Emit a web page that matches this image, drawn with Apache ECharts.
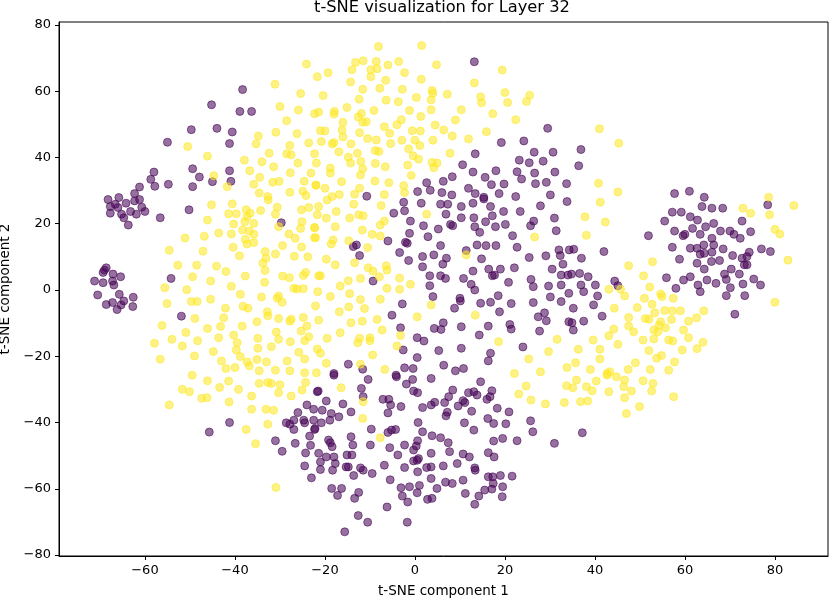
<!DOCTYPE html>
<html>
<head>
<meta charset="utf-8">
<script src="https://cdn.jsdelivr.net/npm/echarts@6/dist/echarts.min.js"></script>
<style>
html,body{margin:0;padding:0;background:#fff;}
#chart{width:830px;height:600px;}
</style>
</head>
<body>
<div id="chart"></div>
<script>
const chartTitle = 't-SNE visualization for Layer 32';
const xAxisName = 't-SNE component 1';
const yAxisName = 't-SNE component 2';
const xTicks = [-60, -40, -20, 0, 20, 40, 60, 80];
const yTicks = [-80, -60, -40, -20, 0, 20, 40, 60, 80];

// label 0 (purple)
const class0 = [
[-38.3,60.5],[-45.2,55.9],[-38.9,53.9],[-36.3,53.9],[-49.7,48.4],[-44.0,48.8],[-40.6,47.7],[-55.0,44.6],[-41.2,44.2],[-49.4,36.6],[-58.0,35.6],[-47.9,34.1],[-41.2,36.0],[-58.7,33.4],[-45.0,32.7],[-40.9,32.8],[-57.8,31.3],[-54.8,31.9],[-61.2,31.1],[-49.4,31.2],[-62.3,29.1],
[13.2,68.9],[29.5,48.8],[19.2,44.5],[24.2,45.0],[13.4,41.1],[26.5,41.6],[30.7,41.6],[23.2,39.2],[25.4,38.4],[28.5,38.9],[10.6,37.8],[12.9,35.6],[15.6,34.0],[18.0,36.0],[22.7,35.7],[23.7,33.5],[26.6,35.3],[31.1,35.6],[6.3,32.8],[8.3,34.2],[2.6,32.4],[3.4,30.1],[0.6,29.7],[6.0,29.4],[8.2,28.7],[11.9,30.7],[13.4,29.1],[17.0,31.8],[19.8,32.0],[18.7,29.1],[26.8,32.1],[29.2,32.5],[33.7,32.1],[22.4,28.2],[30.1,28.7],[-10.7,28.3],[15.3,28.0],
[36.9,42.4],[36.4,37.5],[57.7,29.1],[61.0,29.8],[64.3,28.0],
[-68.2,27.3],[-65.8,27.9],[-64.2,26.2],[-62.3,26.9],[-61.2,27.3],[-67.7,25.2],[-66.0,24.9],[-63.2,23.7],[-60.7,25.0],[-60.0,23.7],[-67.7,23.2],[-65.2,22.9],[-64.7,21.8],[-63.7,19.6],[-61.9,22.9],[-66.6,25.9],
[-50.2,24.2],[-56.6,21.8],[-29.7,20.3],[-54.2,3.5],[-51.9,-7.9],
[-68.6,6.7],[-69.3,5.3],[-67.1,4.8],[-65.4,4.0],[-71.2,2.7],[-69.3,2.2],[-67.2,2.7],[-66.9,1.5],[-70.5,-1.5],[-65.7,-1.3],[-62.6,-2.2],[-64.7,-3.3],[-68.6,-4.4],[-67.2,-3.8],[-66.2,-5.9],[-62.7,-5.0],[-65.3,-4.5],[-69.0,6.0],
[-41.2,-40.0],[-45.7,-42.9],[-21.7,-30.7],[-24.0,-34.7],[-22.5,-36.0],[-26.0,-37.0],[-26.9,-39.3],[-24.7,-39.3],[-24.5,-40.1],[-28.6,-40.1],[-27.8,-40.5],[-26.9,-42.1],[-22.3,-42.1],[-23.4,-44.1],[-31.0,-45.5],[-26.6,-46.3],[-23.2,-46.9],[-29.5,-48.7],[-24.3,-49.2],[-21.4,-49.3],[-21.0,-51.9],[-24.5,-53.1],[-21.0,-54.2],[-23.0,-56.7],
[-2.5,26.5],[1.4,26.2],[-2.3,23.9],[-4.7,23.2],[-1.0,20.8],[5.7,25.9],[7.3,25.9],[6.9,22.9],[10.3,25.2],[10.3,21.8],[12.9,26.2],[15.3,27.5],[16.8,25.2],[13.1,21.8],[15.7,20.6],[17.2,22.4],[27.9,25.4],[19.7,23.7],[23.4,23.7],[26.4,20.8],[31.0,21.7],[25.7,19.4],[31.4,17.9],[17.9,19.1],[20.1,19.8],[13.3,19.1],[14.4,17.4],[7.9,19.8],[8.4,19.4],[5.2,18.4],[1.9,19.4],[-1.2,17.1],[-1.7,14.1],[-2.1,14.4],[2.9,16.1],[-6.0,14.8],[-3.4,11.3],[-1.4,8.9],[-13.0,13.6],[-13.7,13.1],[-12.3,10.4],[5.7,13.4],[4.2,10.6],[1.7,10.1],[1.7,7.0],[7.0,9.6],[6.2,7.8],[6.8,3.5],[5.7,4.3],[11.4,11.9],[13.8,13.6],[15.8,13.4],[18.0,13.4],[22.7,12.9],[21.7,16.4],[14.8,9.4],[16.4,6.3],[17.2,4.3],[17.7,4.5],[19.0,6.3],[12.9,5.7],[10.8,3.5],[12.5,1.7],[13.3,0.0],[3.3,4.3],[3.3,1.3],[4.0,-2.0],[-9.3,2.7],[10.0,-2.5],[10.1,-3.3],[8.8,-5.5],[14.6,-4.0],[16.8,-3.7],[18.5,-1.7],[18.8,-6.6],[20.8,2.3],[22.1,6.7],[21.4,-4.1],[25.4,9.8],[29.1,10.3],[32.0,12.1],[32.3,10.4],[34.3,12.1],[30.5,6.3],[32.5,4.5],[34.0,4.5],[32.5,1.5],[25.8,3.2],[26.3,1.0],[29.7,1.2],[30.1,-2.1],[26.3,-3.8],[32.5,-3.5],[34.2,-1.0],[28.8,-6.9],[27.4,-8.1],[29.2,-9.3],[34.2,-9.6],[21.1,-10.4],[21.4,-11.8],[16.3,-10.9],[27.7,-12.4],[14.3,-13.6],[10.3,-11.1],[6.3,-9.9],[5.8,-11.9],[4.3,-11.6],[-3.2,-11.4],[-2.6,-18.1],[-5.1,-7.6],[-2.8,-4.2],[0.5,-14.4],[2.0,-15.4],[5.3,-18.3],[10.3,-17.6],[16.8,-19.1],[16.3,-21.4],[24.0,-17.2],[0.5,-20.4],[6.4,-22.7],[-2.3,-23.5],[-0.4,-23.7],[-4.2,-25.7],[9.0,-24.4],[10.8,-23.7],[-14.8,-22.4],[-11.6,-23.9],[-18.0,-25.2],
[33.8,26.7],[57.2,23.5],[59.2,23.5],[61.2,22.1],[62.8,21.1],[64.6,19.1],[55.5,20.8],[57.7,17.8],[59.6,16.4],[60.0,16.8],[61.7,18.6],[63.4,16.8],[66.4,20.1],[67.9,17.8],[70.0,17.8],[70.9,16.8],[72.7,20.8],[72.3,15.6],[74.6,17.6],[63.8,25.2],[66.0,24.7],[68.4,24.7],[78.4,25.7],[51.9,16.4],[57.2,12.9],[61.2,12.6],[62.7,12.6],[64.2,13.6],[66.0,15.6],[66.4,13.6],[68.5,12.4],[63.4,10.8],[64.3,11.1],[66.0,11.4],[67.7,8.9],[70.6,10.4],[72.7,9.6],[73.8,10.1],[74.3,11.4],[73.2,7.6],[73.8,7.6],[77.0,12.4],[79.0,11.6],[58.8,9.3],[62.7,8.1],[64.3,6.3],[65.9,8.6],[61.2,4.0],[59.7,3.0],[55.9,3.7],[64.9,3.0],[66.9,2.0],[68.8,4.8],[70.3,6.3],[72.1,4.8],[62.9,1.5],[63.4,-0.5],[69.2,3.2],[70.1,0.7],[69.2,-1.7],[72.9,1.8],[73.3,-1.7],[75.3,3.3],[76.8,1.5],[58.0,0.5],[71.1,-7.3],[42.0,11.6],[35.3,12.3],[37.0,9.6],[32.9,7.8],[34.8,4.8],[36.6,5.0],[38.5,4.0],[36.9,1.5],[37.5,-0.5],[40.1,1.5],[40.6,-1.8],[39.7,-4.5],[35.2,-5.5],[44.4,2.7],[45.1,1.3],[41.6,-7.9],[37.5,-9.4],[34.9,-9.9],[35.2,-12.1],
[-18.0,-25.7],[-10.4,-27.0],[-4.1,-26.2],[-1.9,-28.4],[-0.5,-27.0],[3.6,-26.7],[-0.3,-30.5],[0.6,-31.0],[-21.5,-30.5],[-19.7,-33.5],[-16.0,-34.4],[-11.9,-29.7],[-11.5,-32.2],[-14.2,-36.8],[-7.1,-33.0],[-5.8,-33.0],[-5.4,-34.7],[-6.0,-37.1],[-3.1,-35.2],[1.7,-35.5],[3.6,-34.7],[4.4,-33.9],[6.6,-34.0],[7.5,-32.2],[8.4,-30.2],[6.9,-38.0],[7.2,-36.9],[9.6,-35.0],[10.7,-33.4],[11.1,-34.0],[11.9,-31.0],[12.6,-36.6],[13.1,-30.7],[14.6,-27.7],[13.8,-31.7],[16.0,-33.0],[16.7,-32.2],[17.1,-30.4],[18.3,-35.7],[20.9,-36.8],[16.2,-38.8],[17.5,-40.3],[20.2,-40.4],[25.7,-39.5],[26.2,-42.8],[31.0,-46.3],[22.7,-45.5],[19.5,-44.8],[17.5,-45.6],[13.1,-42.3],[11.0,-40.1],[0.7,-40.0],[1.7,-42.8],[3.8,-44.0],[5.7,-44.6],[7.4,-46.1],[7.7,-48.8],[3.6,-49.3],[9.4,-52.4],[10.7,-49.5],[12.1,-50.4],[13.3,-53.7],[13.4,-54.4],[16.3,-49.1],[17.6,-50.4],[0.6,-45.5],[0.3,-47.1],[-0.3,-48.3],[-2.3,-46.8],[-3.8,-49.8],[-5.6,-47.6],[-5.2,-42.3],[-6.0,-43.0],[-4.3,-42.1],[-9.7,-42.0],[-9.9,-46.8],[-14.2,-44.3],[-13.8,-46.8],[-18.8,-46.1],[-18.4,-47.3],[-19.2,-45.3],[-22.2,-41.8],[-22.5,-39.3],[-20.8,-40.1],[-18.9,-39.3],[-18.6,-37.3],[-16.9,-38.3],[-20.6,-36.3],[-14.0,-49.8],[-15.1,-49.8],[-14.8,-53.4],[-12.1,-53.7],[-11.5,-54.4],[-9.5,-55.4],[-13.6,-56.0],[-6.8,-52.9],[-5.5,-57.3],[-2.3,-53.6],[-0.3,-51.6],[0.5,-51.4],[0.8,-50.9],[0.6,-54.9],[2.6,-53.6],[3.6,-53.4],[6.3,-53.1],[3.6,-56.9],[6.8,-58.0],[8.3,-58.4],[10.7,-57.4],[16.3,-56.4],[17.3,-56.4],[19.0,-56.0],[21.6,-56.2],[17.4,-58.4],[19.5,-59.4],[17.1,-60.1],[15.5,-60.4],[14.2,-62.2],[13.3,-64.7],[19.4,-62.4],[11.2,-61.4],[4.9,-59.9],[3.8,-62.9],[2.8,-63.2],[1.0,-59.0],[-1.2,-59.4],[0.5,-61.2],[-1.6,-64.0],[-3.1,-59.7],[-2.8,-62.2],[-18.5,-59.9],[-16.3,-59.9],[-17.2,-62.0],[-12.5,-61.1],[-13.4,-62.9],[-6.2,-65.5],[-12.6,-68.1],[-10.5,-70.1],[-1.7,-70.1],[-15.6,-73.0],[-18.3,-54.4],[-19.7,-50.4],[-18.0,-50.4],[-17.7,-52.4],[-15.3,-53.4],
[37.2,-43.1]
];

// label 1 (yellow)
const class1 = [
[-24.1,68.2],[-31.1,62.1],[-21.7,64.4],[-25.4,59.3],[-30.0,55.4],[-25.9,54.3],[-22.3,53.2],[-21.4,53.7],[-28.5,51.1],[-34.8,46.5],[-30.9,47.6],[-26.2,47.2],[-50.5,43.3],[-35.3,44.1],[-27.8,43.6],[-23.6,44.4],[-46.1,40.4],[-32.4,41.3],[-28.5,41.1],[-27.5,40.8],[-22.3,41.1],[-37.9,39.2],[-34.0,38.7],[-31.4,37.2],[-26.0,38.3],[-36.7,36.0],[-27.7,35.4],[-23.1,35.3],[-44.7,34.5],[-34.5,34.0],[-41.7,31.2],[-35.8,31.9],[-31.6,32.5],[-30.2,32.8],[-24.6,32.8],[-22.0,31.6],[-34.6,29.3],[-32.7,28.2],[-27.8,29.5],[-24.9,29.8],[-24.2,28.5],
[-8.1,73.5],[1.5,73.8],[-13.2,68.7],[-11.5,69.2],[-8.6,69.0],[-6.0,67.9],[-3.6,69.0],[4.8,68.0],[-19.3,65.6],[-14.0,66.5],[-9.8,66.5],[-8.4,66.8],[-2.3,65.6],[-9.8,64.4],[-6.5,63.3],[1.4,63.6],[-14.3,62.8],[-11.6,60.6],[-7.8,60.9],[-2.8,60.6],[3.8,60.2],[4.0,59.4],[7.2,59.1],[-20.4,58.7],[-12.4,57.6],[-6.4,57.3],[-3.7,56.8],[0.3,58.1],[3.6,57.4],[-15.1,55.1],[-9.1,54.2],[-1.2,54.2],[3.6,54.4],[10.3,54.4],[-17.9,53.9],[-18.0,53.1],[-12.6,52.2],[-11.9,53.3],[-10.8,50.8],[-11.6,50.6],[-16.0,50.6],[-3.0,51.4],[-4.0,49.9],[1.3,52.4],[4.5,49.8],[9.0,51.3],[-21.0,48.1],[-20.0,48.0],[-16.2,48.3],[-16.0,46.2],[-12.3,47.5],[-6.8,49.3],[-5.6,47.3],[-0.6,48.1],[1.2,48.0],[6.4,48.3],[8.3,46.5],[-20.8,44.8],[-18.4,44.1],[-18.0,44.5],[-14.2,44.1],[-10.5,45.7],[-8.6,45.3],[-5.4,44.2],[-2.9,45.2],[0.0,45.2],[1.1,43.6],[4.0,45.2],[11.9,45.6],[15.9,47.8],[17.3,53.2],[22.4,51.4],[13.2,62.5],[14.6,58.3],[14.8,56.5],[19.4,66.4],[20.0,59.6],[20.6,56.6],[24.8,56.9],[25.5,58.8],[-16.9,41.7],[-14.8,40.1],[-14.3,38.3],[-12.8,41.3],[-8.8,42.1],[-8.0,41.8],[-1.4,42.6],[-0.4,40.5],[0.8,39.5],[7.8,41.3],[-21.9,38.3],[-18.8,36.8],[-18.8,35.3],[-12.0,38.8],[-11.6,36.6],[-12.1,34.7],[-8.8,38.2],[-6.6,37.2],[-1.6,37.7],[3.8,38.5],[4.9,38.3],[4.2,36.9],[-0.8,34.6],[-22.0,31.7],[-20.0,30.7],[-16.3,32.7],[-12.3,30.7],[-8.9,32.9],[-5.8,32.4],[-2.5,31.5],[-2.3,29.4],[-6.8,28.8],[-13.4,28.9],[-16.8,28.8],[-18.4,28.2],
[41.0,48.7],[45.3,44.3],[40.8,32.2],[45.1,29.6],[78.6,28.0],
[-45.2,25.7],[-40.6,26.0],[-41.4,23.0],[-39.7,23.0],[-37.5,24.2],[-36.6,23.2],[-46.1,21.1],[-34.3,24.0],[-32.6,27.2],[-30.6,25.0],[-31.0,22.9],[-25.2,24.2],[-23.6,24.9],[-25.1,20.6],[-40.3,19.9],[-37.8,20.6],[-37.3,22.1],[-35.8,20.1],[-51.1,15.7],[-46.8,16.2],[-43.6,17.2],[-40.8,16.9],[-38.3,18.1],[-36.8,17.8],[-35.8,16.8],[-37.7,15.3],[-37.3,13.9],[-35.8,14.3],[-30.3,19.1],[-28.0,16.9],[-26.6,15.6],[-25.4,18.6],[-22.3,18.9],[-22.1,15.8],[-54.6,12.0],[-47.1,11.7],[-40.4,12.9],[-39.0,10.3],[-33.3,11.6],[-33.1,9.6],[-33.8,8.1],[-33.3,5.9],[-31.0,10.9],[-29.4,13.4],[-26.8,10.2],[-25.2,13.0],[-23.8,10.0],[-52.7,7.5],[-48.5,7.5],[-44.1,7.2],[-42.0,5.6],[-37.7,4.2],[-49.4,4.0],[-45.4,2.7],[-40.8,1.1],[-33.4,2.3],[-29.4,4.2],[-27.9,3.7],[-24.8,4.4],[-24.3,5.3],[-21.4,4.3],[-26.9,0.5],[-26.2,0.3],[-24.8,0.4],[-21.6,-0.5],[-55.6,0.7],[-50.7,0.1],[-38.8,-1.3],[-34.1,-2.1],[-30.3,-1.8],[-30.6,-2.5],[-29.5,-3.7],[-55.1,-4.1],[-49.7,-3.5],[-48.4,-3.5],[-45.4,-2.8],[-42.1,-5.5],[-38.2,-4.9],[-37.1,-5.5],[-32.8,-6.6],[-22.1,-4.8],[-48.9,-8.6],[-42.5,-8.4],[-35.1,-9.6],[-32.7,-7.8],[-30.3,-8.6],[-27.8,-9.4],[-27.5,-8.8],[-24.8,-8.3],[-24.0,-10.9],[-21.4,-9.1],[-56.2,-10.7],[-50.9,-12.8],[-46.1,-11.6],[-43.2,-11.0],[-38.4,-10.9],[-40.3,-13.6],[-39.5,-15.9],[-34.9,-14.6],[-30.8,-12.7],[-30.3,-14.9],[-27.7,-15.6],[-25.3,-12.4],[-24.5,-15.3],[-23.6,-14.1],[-57.9,-16.1],[-54.0,-14.9],[-51.7,-16.9],[-48.3,-15.3],[-43.6,-14.4],[-39.7,-18.1],[-34.9,-17.6],[-31.9,-17.1],[-25.8,-18.8],[-21.7,-17.8],[-56.6,-20.9],[-49.0,-19.9],[-44.8,-18.6],[-43.0,-21.4],[-38.8,-20.1],[-37.3,-21.7],[-36.8,-22.9],[-35.1,-21.0],[-33.0,-21.7],[-28.4,-21.4],[-24.5,-20.8],[-42.0,-23.7],[-40.0,-23.4],[-34.6,-24.4],[-31.0,-24.2],[-27.8,-24.4],[-24.5,-25.0],[-21.9,-25.0],[-49.5,-25.7],
[-46.1,-27.4],[-51.7,-30.0],[-50.1,-30.7],[-54.6,-34.7],[-47.4,-32.7],[-46.2,-32.5],[-43.4,-29.4],[-41.4,-27.5],[-39.2,-30.0],[-41.3,-33.8],[-36.3,-32.0],[-34.6,-28.2],[-32.7,-27.9],[-31.9,-28.2],[-30.0,-28.6],[-30.3,-31.0],[-27.5,-32.0],[-25.1,-30.2],[-24.3,-27.9],[-36.3,-36.0],[-33.1,-36.0],[-31.4,-36.3],[-37.5,-42.1],[-32.7,-40.5],[-35.4,-46.4],[-30.9,-59.6],
[-19.5,27.2],[-21.4,25.2],[-21.7,22.7],[-19.7,21.7],[-17.5,23.7],[-13.6,25.9],[-14.5,21.7],[-12.5,22.7],[-11.5,22.4],[-22.3,18.8],[-17.7,19.1],[-22.3,15.8],[-18.2,15.1],[-18.6,13.9],[-14.7,14.9],[-11.7,18.1],[-9.5,16.8],[-7.7,16.3],[-7.7,19.6],[-6.8,20.8],[-7.5,25.5],[-10.5,12.8],[2.6,22.9],[-13.4,8.2],[-19.7,9.3],[-17.7,7.6],[-10.4,6.7],[-9.3,5.7],[-6.4,7.3],[-6.2,6.0],[-3.4,3.6],[-1.0,1.7],[-21.0,4.3],[-16.6,1.2],[-14.8,2.8],[-12.1,3.5],[-7.9,4.0],[-6.2,0.5],[-3.4,0.2],[-18.8,-2.0],[-14.5,-1.1],[-12.1,-2.9],[-7.7,-2.8],[-16.8,-6.6],[-14.7,-5.1],[-11.2,-5.6],[3.6,-4.5],[0.5,-8.1],[13.4,-7.6],[-14.2,-9.9],[-11.7,-9.4],[-8.4,-8.9],[-7.3,-12.1],[-3.2,-13.7],[-4.0,-16.9],[-19.5,-14.6],[-16.6,-12.9],[-12.3,-14.6],[-12.7,-15.9],[-10.0,-14.4],[-10.0,-15.3],[-9.4,-19.6],[-21.0,-19.1],[-19.7,-22.1],[-12.1,-22.4],[-6.7,-24.0],[11.4,10.6],[18.6,-15.6],[26.6,16.0],[31.6,-14.9],[29.7,-18.6],[25.3,-20.8],[33.8,-23.4],[27.9,-24.7],[22.1,-25.2],
[41.2,26.5],[37.8,22.1],[42.3,20.5],[38.1,16.5],[84.2,25.5],[72.9,24.7],[74.6,23.2],[78.8,22.7],[80.0,18.3],[81.1,16.9],[82.9,9.0],[80.0,-3.7],[47.5,7.3],[52.8,8.5],[50.8,4.3],[52.2,0.9],[43.1,0.2],[45.7,0.2],[46.6,-1.8],[54.6,-1.2],[54.9,-2.0],[57.4,-2.5],[51.0,-2.5],[44.3,-5.5],[49.4,-5.3],[52.7,-4.3],[53.3,-6.9],[55.5,-6.2],[57.2,-6.3],[59.0,-6.3],[64.2,-6.3],[47.5,-8.3],[47.5,-10.9],[51.2,-8.6],[52.0,-8.8],[54.6,-9.6],[54.3,-10.6],[57.0,-8.9],[60.8,-9.4],[62.6,-8.4],[44.2,-11.8],[43.1,-13.8],[48.6,-12.6],[53.1,-12.1],[54.0,-12.6],[55.7,-11.4],[50.7,-15.1],[53.1,-14.8],[56.4,-15.1],[57.3,-15.4],[59.7,-12.1],[60.8,-14.4],[64.0,-15.8],[62.7,-17.7],[59.4,-18.1],[39.6,-15.1],[41.1,-17.9],[41.1,-20.8],[45.1,-16.4],[36.3,-17.9],[52.0,-18.3],[53.7,-20.6],[54.8,-19.8],[57.7,-21.7],[49.0,-22.0],[35.7,-22.0],[39.0,-24.0],[43.3,-24.7],[42.7,-25.2],[47.4,-24.0],[52.3,-24.0],[56.4,-24.2],
[-16.4,-29.5],[-11.5,-33.7],[-11.6,-38.8],[-7.7,-44.6],[24.7,-29.0],[23.1,-31.4],[25.8,-33.2],[29.0,-34.4],[33.2,-34.0],[33.7,-28.9],
[35.9,-27.2],[35.1,-29.5],[38.1,-29.2],[39.4,-30.4],[40.3,-27.5],[42.7,-25.7],[44.8,-26.2],[43.1,-30.7],[46.4,-29.2],[46.6,-27.2],[46.6,-32.5],[48.1,-30.5],[50.7,-27.4],[52.9,-28.2],[52.6,-30.5],[57.5,-32.2],[49.9,-35.2],[47.0,-37.3],[36.8,-33.7],[38.4,-33.5]
];

const FONT = 'DejaVu Sans';
const fmt = v => String(v).replace('-', '\u2212');
const PURPLE = 'rgba(68,1,84,0.7)';
const YELLOW = 'rgba(253,231,37,0.7)';

const chart = echarts.init(document.getElementById('chart'), null, {renderer: 'canvas'});
chart.setOption({
  animation: false,
  backgroundColor: '#ffffff',
  title: {
    text: chartTitle,
    left: 314,
    top: 0,
    padding: 0,
    textStyle: {fontFamily: FONT, fontSize: 16.3, fontWeight: 'normal', color: '#000'}
  },
  grid: {
    left: 59, right: 2, top: 22, bottom: 44,
    containLabel: false,
    outerBoundsMode: 'none',
    show: true, borderColor: '#000', borderWidth: 1, backgroundColor: 'transparent'
  },
  xAxis: {
    type: 'value',
    min: -79.1, max: 91.8,
    name: xAxisName,
    nameLocation: 'middle',
    nameGap: 28,
    nameTextStyle: {fontFamily: FONT, fontSize: 13.5, color: '#000'},
    axisLine: {show: true, onZero: false, lineStyle: {color: '#000', width: 1}},
    axisTick: {show: true, length: 4, lineStyle: {color: '#000'}, customValues: xTicks},
    axisLabel: {show: true, margin: 8, fontFamily: FONT, fontSize: 13, color: '#000', customValues: xTicks, formatter: fmt},
    splitLine: {show: false}
  },
  yAxis: {
    type: 'value',
    min: -80.3, max: 80.9,
    name: yAxisName,
    nameLocation: 'middle',
    nameGap: 41,
    nameRotate: 90,
    nameTextStyle: {fontFamily: FONT, fontSize: 13.5, color: '#000'},
    axisLine: {show: true, onZero: false, lineStyle: {color: '#000', width: 1}},
    axisTick: {show: true, length: 4, lineStyle: {color: '#000'}, customValues: yTicks},
    axisLabel: {show: true, margin: 8, fontFamily: FONT, fontSize: 13, color: '#000', customValues: yTicks, formatter: fmt},
    splitLine: {show: false}
  },
  series: [
    {
      type: 'scatter',
      name: 'label 0',
      data: class0,
      symbol: 'circle',
      symbolSize: 8,
      itemStyle: {color: PURPLE, borderColor: PURPLE, borderWidth: 1}
    },
    {
      type: 'scatter',
      name: 'label 1',
      data: class1,
      symbol: 'circle',
      symbolSize: 8,
      itemStyle: {color: YELLOW, borderColor: YELLOW, borderWidth: 1}
    }
  ]
});
</script>
</body>
</html>
